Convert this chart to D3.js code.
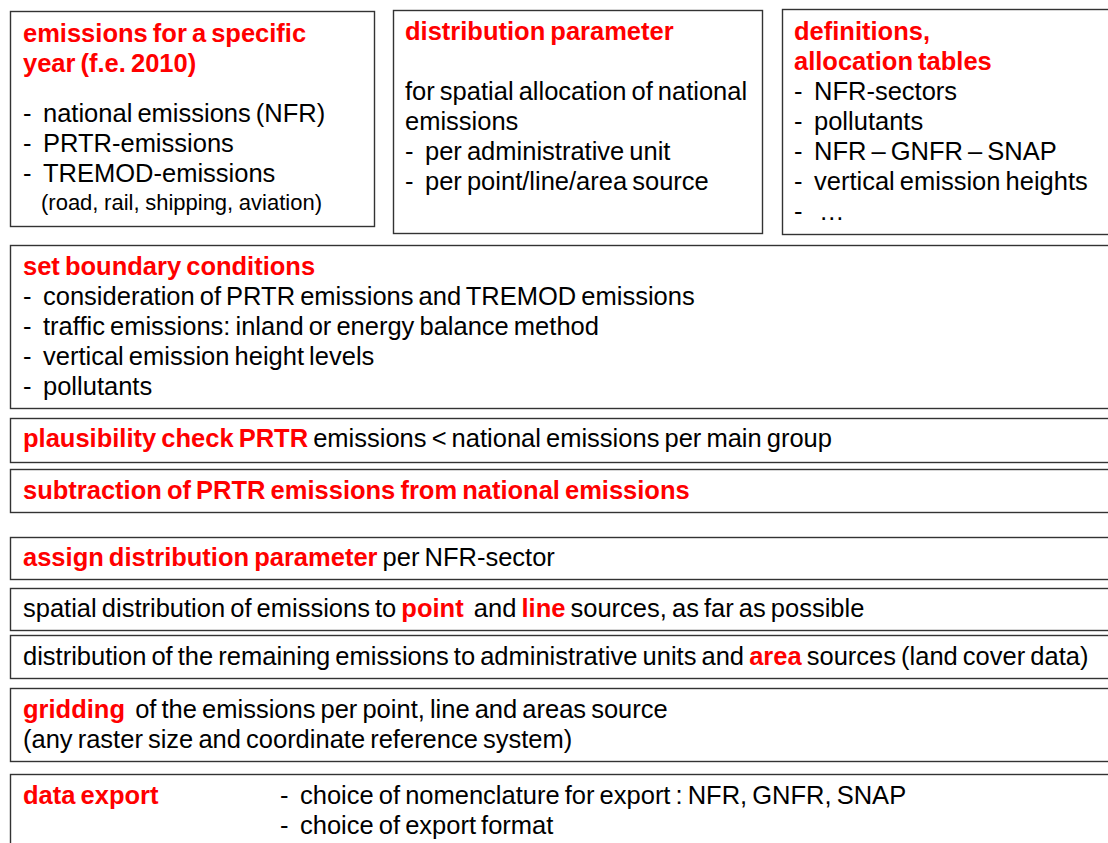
<!DOCTYPE html>
<html>
<head>
<meta charset="utf-8">
<script src="https://cdn.jsdelivr.net/npm/d3@7"></script>
<style>
  body { margin: 0; background: #fff; }
  svg { display: block; font-family: "Liberation Sans", Arial, sans-serif; }
</style>
</head>
<body>
<div id="chart"></div>
<script>
// text content of the boxes; [text, red] segments
const yearTitle = ["emissions for a specific", "year (f.e. 2010)"];
const yearItems = ["national emissions (NFR)", "PRTR-emissions", "TREMOD-emissions"];
const yearNote = "(road, rail, shipping, aviation)";
const distTitle = ["distribution parameter"];
const distText = ["for spatial allocation of national", "emissions"];
const distItems = ["per administrative unit", "per point/line/area source"];
const defTitle = ["definitions,", "allocation tables"];
const defItems = ["NFR-sectors", "pollutants", "NFR \u2013 GNFR \u2013 SNAP", "vertical emission heights", " \u2026"];
const boundTitle = ["set boundary conditions"];
const boundItems = ["consideration of PRTR emissions and TREMOD emissions",
  "traffic emissions: inland or energy balance method",
  "vertical emission height levels", "pollutants"];
const plausLine = [["plausibility check PRTR", true], [" emissions < national emissions per main group", false]];
const subtrLine = [["subtraction of PRTR emissions from national emissions", true]];
const assignLine = [["assign distribution parameter", true], [" per NFR-sector", false]];
const spatialLine = [["spatial distribution of emissions to ", false], ["point", true], ["  and ", false], ["line", true], [" sources, as far as possible", false]];
const remainLine = [["distribution of the remaining emissions to administrative units and ", false], ["area", true], [" sources (land cover data)", false]];
const gridLines = [[["gridding", true], ["  of the emissions per point, line and areas source", false]],
  [["(any raster size and coordinate reference system)", false]]];
const exportTitle = ["data export"];
const exportItems = ["choice of nomenclature for export : NFR, GNFR, SNAP", "choice of export format"];

// layout: box rectangles [x0, y0, x1, y1]
const boxRects = [
  [10, 11, 374, 226], [393, 10, 762, 233], [782, 9, 1120, 234],
  [10, 245, 1120, 408], [10, 418, 1120, 462], [10, 469, 1120, 512],
  [10, 537, 1120, 579], [10, 588, 1120, 630], [10, 635, 1120, 678],
  [10, 688, 1120, 761], [10, 774, 1120, 860]
];

const W = 1108, H = 843;
const svg = d3.select("#chart").append("svg").attr("width", W).attr("height", H);

svg.selectAll("rect.box").data(boxRects).enter().append("rect")
  .attr("class", "box")
  .attr("x", d => d[0] + 0.5).attr("y", d => d[1] + 0.5)
  .attr("width", d => d[2] - d[0]).attr("height", d => d[3] - d[1])
  .attr("fill", "none").attr("stroke", "#333").attr("stroke-width", 1.4);

const RED = "#ff0000";
const FS = 25.5;

// build line list: {x, y, segs, size, dash}
const lines = [];
const asTitle = t => [[t, true]];
const asText = t => [[t, false]];
function block(x, y0, step, arr, kind) {
  arr.forEach((t, i) => lines.push({ x: x, y: y0 + i * step, segs: kind === "title" ? asTitle(t) : asText(t), dash: kind === "bullet" }));
}
block(23, 42, 30, yearTitle, "title");
block(23, 122, 30, yearItems, "bullet");
lines.push({ x: 41, y: 210, segs: asText(yearNote), size: 22, ws: -0.5 });
block(405, 40, 30, distTitle, "title");
block(405, 100, 30, distText, "text");
block(405, 160, 30, distItems, "bullet");
block(794, 40, 30, defTitle, "title");
block(794, 100, 30, defItems, "bullet");
block(23, 275, 30, boundTitle, "title");
block(23, 305, 30, boundItems, "bullet");
lines.push({ x: 23, y: 447, segs: plausLine });
lines.push({ x: 23, y: 499, segs: subtrLine });
lines.push({ x: 23, y: 566, segs: assignLine });
lines.push({ x: 23, y: 617, segs: spatialLine });
lines.push({ x: 23, y: 665, segs: remainLine });
gridLines.forEach((s, i) => lines.push({ x: 23, y: 718 + i * 30, segs: s }));
block(23, 804, 30, exportTitle, "title");
block(280, 804, 30, exportItems, "bullet");

const txt = svg.selectAll("text.line").data(lines).enter().append("text")
  .attr("class", "line")
  .attr("x", d => d.x).attr("y", d => d.y)
  .attr("font-size", d => d.size || FS)
  .attr("word-spacing", d => d.ws != null ? d.ws : -2)
  .attr("xml:space", "preserve");

txt.filter(d => d.dash).append("tspan").text("-").attr("fill", "#000");
txt.each(function (d) {
  const t = d3.select(this);
  d.segs.forEach((s, i) => {
    const ts = t.append("tspan").text(s[0])
      .attr("fill", s[1] ? RED : "#000")
      .attr("font-weight", s[1] ? "bold" : "normal");
    if (d.dash && i === 0) ts.attr("x", d.x + 20);
  });
});
</script>
</body>
</html>
